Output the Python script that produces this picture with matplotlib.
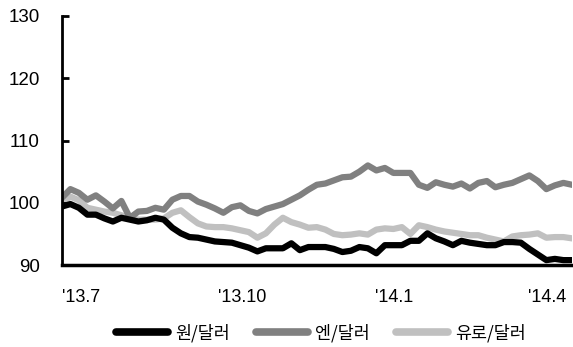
import pandas as pd
import matplotlib.pyplot as plt

# 5-day samples, index 2013.7 = 100
dates = pd.date_range("2013-07-01", periods=61, freq="5D")

won = [99.4, 99.8, 99.2, 98.1, 98.1, 97.5, 97.0, 97.6, 97.3, 97.0,
       97.2, 97.6, 97.3, 96.0, 95.1, 94.5, 94.4, 94.1, 93.8, 93.7,
       93.6, 93.2, 92.8, 92.2, 92.7, 92.7, 92.7, 93.5, 92.4, 92.9,
       92.9, 92.9, 92.6, 92.1, 92.3, 92.9, 92.7, 91.9, 93.2, 93.2,
       93.2, 93.9, 93.9, 95.1, 94.3, 93.8, 93.2, 93.9, 93.6, 93.4,
       93.2, 93.2, 93.7, 93.7, 93.6, 92.6, 91.7, 90.8, 91.0, 90.8,
       90.8]

yen = [100.8, 102.2, 101.6, 100.5, 101.2, 100.2, 99.1, 100.3, 97.6, 98.6,
       98.7, 99.2, 98.9, 100.5, 101.1, 101.1, 100.2, 99.7, 99.1, 98.4,
       99.3, 99.6, 98.7, 98.3, 99.0, 99.4, 99.8, 100.5, 101.2, 102.1,
       102.9, 103.1, 103.6, 104.1, 104.2, 105.0, 106.0, 105.2, 105.6, 104.8,
       104.8, 104.8, 102.9, 102.4, 103.3, 102.9, 102.6, 103.1, 102.3, 103.2,
       103.5, 102.5, 102.9, 103.2, 103.8, 104.4, 103.5, 102.2, 102.8, 103.2,
       102.9]

euro = [100.0, 101.0, 100.4, 99.2, 98.9, 98.6, 98.4, 98.0, 97.6, 97.3,
        97.3, 97.3, 97.5, 98.4, 98.8, 97.7, 96.7, 96.2, 96.1, 96.1,
        95.9, 95.6, 95.3, 94.4, 95.1, 96.5, 97.6, 96.9, 96.5, 96.0,
        96.1, 95.7, 95.0, 94.8, 94.9, 95.1, 94.9, 95.7, 95.9, 95.8,
        96.1, 95.0, 96.4, 96.1, 95.7, 95.4, 95.2, 95.0, 94.8, 94.8,
        94.4, 94.1, 93.8, 94.6, 94.8, 94.9, 95.1, 94.4, 94.5, 94.5,
        94.3]

tick_dates = pd.to_datetime(["2013-07-01", "2013-10-01", "2014-01-01", "2014-04-01"])
tick_labels = ["'13.7", "'13.10", "'14.1", "'14.4"]

plt.rcParams['font.family'] = ['Liberation Sans', 'DejaVu Sans']

fig = plt.figure(figsize=(5.73, 3.47), dpi=100)
ax = fig.add_axes([0.108, 0.236, 0.89, 0.718])

ax.plot(dates, won, color='black', lw=4.5, label='원/달러', zorder=3)
ax.plot(dates, yen, color='#808080', lw=4.5, label='엔/달러', zorder=2)
ax.plot(dates, euro, color='#c0c0c0', lw=4.5, label='유로/달러', zorder=1)

ax.set_xlim(dates[0], dates[-1])
ax.set_ylim(90, 130)
ax.set_yticks([90, 100, 110, 120, 130])
ax.set_xticks(tick_dates)
ax.set_xticklabels(tick_labels, ha='left')

for s in ['top', 'right']:
    ax.spines[s].set_visible(False)
ax.spines['left'].set_linewidth(2)
ax.spines['bottom'].set_linewidth(2.5)
ax.spines['bottom'].set_zorder(4)

ax.tick_params(axis='y', direction='in', length=5, width=2, labelsize=13.5, pad=16)
ax.tick_params(axis='x', length=0, labelsize=13, pad=17)

leg = fig.legend(loc='center', bbox_to_anchor=(0.56, 0.04), ncol=3, frameon=False,
                 prop={'family': ['Noto Sans CJK KR', 'DejaVu Sans'], 'size': 12.5},
                 handlelength=3.0, handletextpad=0.4, columnspacing=1.5)
for h in leg.legend_handles:
    h.set_linewidth(5.5)
    h.set_solid_capstyle('round')

fig.savefig('out.png', dpi=100)
